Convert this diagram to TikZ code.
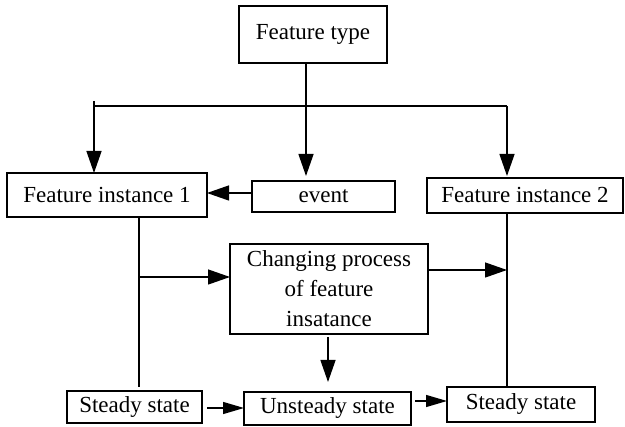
\documentclass[tikz,border=0pt]{standalone}
\usepackage{fontspec}
\setmainfont{Liberation Serif}
\usetikzlibrary{arrows.meta}
\begin{document}
\begin{tikzpicture}[x=1pt,y=-1pt,
  box/.style={draw,line width=1.3pt,inner sep=0pt,outer sep=0pt,align=center,
    font=\fontsize{23}{30}\selectfont},
  conn/.style={line width=1.3pt},
  arr/.style={conn,-{Triangle[length=22pt,width=15pt]}},
  sarr/.style={conn,-{Triangle[length=21pt,width=12pt]}}]
\useasboundingbox (0,0) rectangle (625,427);
% boxes
\node[box,minimum width=148pt,minimum height=57pt] (ft) at (313,34.5) {Feature type};
\node[box,minimum width=200pt,minimum height=44pt] (fi1) at (107,195) {Feature instance 1};
\node[box,minimum width=143pt,minimum height=31pt] (ev) at (323.5,196.5) {event};
\node[box,minimum width=196pt,minimum height=35pt] (fi2) at (525,195.5) {Feature instance 2};
\node[box,minimum width=198pt,minimum height=90pt] (cp) at (329,289) {Changing process\\of feature\\insatance};
\node[box,minimum width=135pt,minimum height=32pt] (ss1) at (134.5,407) {Steady state};
\node[box,minimum width=167pt,minimum height=33pt] (us) at (327.5,408.5) {Unsteady state};
\node[box,minimum width=148pt,minimum height=35pt] (ss2) at (521,404.5) {Steady state};
% junction coordinates
\coordinate (stem) at (306,106);
\coordinate (barL) at (94,106);
\coordinate (barLtop) at (94,101);
\coordinate (barR) at (507,106);
\coordinate (evtip) at (306,176);
\coordinate (fi1tip) at (94,173);
\coordinate (fi2tip) at (507,176);
\coordinate (evarr) at (252,193);
\coordinate (v1top) at (139,217);
\coordinate (v1bot) at (139,387);
\coordinate (br1) at (139,277);
\coordinate (v2top) at (507,213);
\coordinate (v2bot) at (507,387);
\coordinate (cpR) at (428,270);
\coordinate (cpRtip) at (507,270);
\coordinate (cpD) at (328,337);
\coordinate (cpDtip) at (328,382);
\coordinate (s1a) at (207,408);
\coordinate (s2a) at (415,401);
% top tree
\draw[conn] (ft.south -| stem) -- (stem);
\draw[conn] (barL) -- (barR);
\draw[arr] (barLtop) -- (fi1tip);
\draw[arr] (stem) -- (evtip);
\draw[arr] (barR) -- (fi2tip);
\draw[arr] (evarr) -- (fi1.east |- evarr);
% verticals
\draw[conn] (v1top) -- (v1bot);
\draw[conn] (v2top) -- (v2bot);
\draw[arr] (br1) -- (cp.west |- br1);
\draw[arr] (cpR) -- (cpRtip);
\draw[arr] (cpD) -- (cpDtip);
% bottom
\draw[sarr] (s1a) -- (us.west |- s1a);
\draw[sarr] (s2a) -- (ss2.west |- s2a);
\end{tikzpicture}
\end{document}
